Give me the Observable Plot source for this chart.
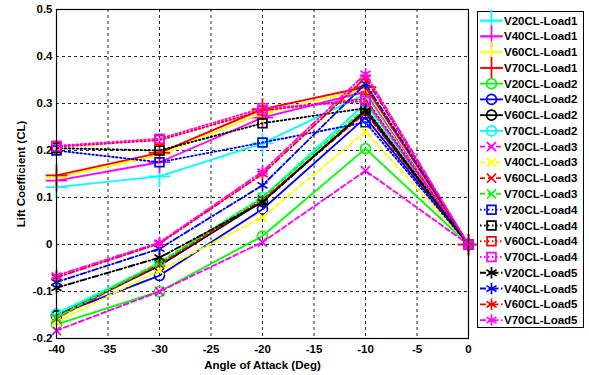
<!DOCTYPE html>
<html>
<head>
<meta charset="utf-8">
<script src="https://cdn.jsdelivr.net/npm/d3@7"></script>
<script src="https://cdn.jsdelivr.net/npm/@observablehq/plot@0.6"></script>
<style>
  html, body { margin: 0; padding: 0; background: #fff; }
  #chart { width: 589px; height: 375px; }
</style>
</head>
<body>
<div id="chart"></div>
<script>
// ---- data ----
const angles = [-40, -30, -20, -10, 0];
const xTicks = [-40, -35, -30, -25, -20, -15, -10, -5, 0];
const yTicks = [-0.2, -0.1, 0, 0.1, 0.2, 0.3, 0.4, 0.5];

const seriesNames = [
  "V20CL-Load1", "V40CL-Load1", "V60CL-Load1", "V70CL-Load1",
  "V20CL-Load2", "V40CL-Load2", "V60CL-Load2", "V70CL-Load2",
  "V20CL-Load3", "V40CL-Load3", "V60CL-Load3", "V70CL-Load3",
  "V20CL-Load4", "V40CL-Load4", "V60CL-Load4", "V70CL-Load4",
  "V20CL-Load5", "V40CL-Load5", "V60CL-Load5", "V70CL-Load5"
];

const v20Load1 = [0.122, 0.145, 0.215, 0.320, 0];
const v40Load1 = [0.136, 0.175, 0.270, 0.325, 0];
const v60Load1 = [0.143, 0.190, 0.280, 0.330, 0];
const v70Load1 = [0.147, 0.195, 0.288, 0.335, 0];

const v20Load2 = [-0.170, -0.100, 0.018, 0.204, 0];
const v40Load2 = [-0.150, -0.066, 0.075, 0.270, 0];
const v60Load2 = [-0.152, -0.045, 0.092, 0.285, 0];
const v70Load2 = [-0.147, -0.040, 0.100, 0.300, 0];

const v20Load3 = [-0.183, -0.100, 0.005, 0.157, 0];
const v40Load3 = [-0.165, -0.055, 0.058, 0.240, 0];
const v60Load3 = [-0.157, -0.042, 0.095, 0.280, 0];
const v70Load3 = [-0.155, -0.038, 0.100, 0.290, 0];

const v20Load4 = [0.200, 0.175, 0.217, 0.260, 0];
const v40Load4 = [0.205, 0.200, 0.258, 0.290, 0];
const v60Load4 = [0.208, 0.222, 0.285, 0.310, 0];
const v70Load4 = [0.210, 0.225, 0.290, 0.305, 0];

const v20Load5 = [-0.092, -0.028, 0.090, 0.285, 0];
const v40Load5 = [-0.080, -0.009, 0.126, 0.342, 0];
const v60Load5 = [-0.070, 0.002, 0.150, 0.355, 0];
const v70Load5 = [-0.066, 0.004, 0.155, 0.363, 0];

const seriesValues = [
  v20Load1, v40Load1, v60Load1, v70Load1,
  v20Load2, v40Load2, v60Load2, v70Load2,
  v20Load3, v40Load3, v60Load3, v70Load3,
  v20Load4, v40Load4, v60Load4, v70Load4,
  v20Load5, v40Load5, v60Load5, v70Load5
];

// ---- styles ----
const seriesColors = [
  "#00ffff", "#ff00ff", "#ffff00", "#ff0000",
  "#00ff00", "#0000ff", "#000000", "#00ffff",
  "#ff00ff", "#ffff00", "#ff0000", "#00ff00",
  "#0000ff", "#000000", "#ff0000", "#ff00ff",
  "#000000", "#0000ff", "#ff0000", "#ff00ff"
];
const loadSymbols = ["plus", "circle", "times", "square", "asterisk"];
const loadRadius = [7, 5, 4.2, 5, 5.5];
const loadDash = [null, null, "5,3", "1.5,2.5", "6,2.5,1.5,2.5"];

const table = seriesNames.flatMap((name, i) =>
  angles.map((a, j) => ({series: name, angle: a, cl: seriesValues[i][j]}))
);

const seriesMarks = seriesNames.flatMap((name, i) => {
  const g = Math.floor(i / 4);
  const rows = table.filter(d => d.series === name);
  return [
    Plot.line(rows, {x: "angle", y: "cl", stroke: seriesColors[i], strokeWidth: 1.9,
      strokeDasharray: loadDash[g] || undefined}),
    Plot.dot(rows, {x: "angle", y: "cl", symbol: loadSymbols[g], r: loadRadius[g],
      stroke: seriesColors[i], strokeWidth: 1.7, fill: "none"})
  ];
});

const W = 589, H = 375;
const chart = Plot.plot({
  width: W, height: H,
  marginLeft: 56, marginRight: 121, marginTop: 9, marginBottom: 37,
  style: {fontFamily: "'Liberation Sans', Arial, sans-serif", fontWeight: "bold", fontSize: "11.5px", background: "#fff", color: "#000"},
  x: {domain: [-40, 0]},
  y: {domain: [-0.2, 0.5]},
  marks: [
    Plot.gridX(xTicks, {stroke: "#000", strokeOpacity: 0.85, strokeDasharray: "3,3", strokeWidth: 1}),
    Plot.gridY(yTicks, {stroke: "#000", strokeOpacity: 0.85, strokeDasharray: "3,3", strokeWidth: 1}),
    ...seriesMarks,
    Plot.frame({stroke: "#000", strokeWidth: 1.2}),
    Plot.axisX(xTicks, {tickSize: 0, tickPadding: 6, tickFormat: d => String(d),
      label: "Angle of Attack (Deg)", labelAnchor: "center", labelArrow: "none", labelOffset: 30}),
    Plot.axisY(yTicks, {tickSize: 0, tickPadding: 4, tickFormat: d => (d === 0 ? "0" : String(+d.toFixed(1))),
      label: "Lift Coefficient (CL)", labelAnchor: "center", labelArrow: "none", labelOffset: 40})
  ]
});
document.getElementById("chart").appendChild(chart);

// ---- legend ----
const svg = d3.select(chart.tagName.toLowerCase() === "svg" ? chart : chart.querySelector("svg"));
const lg = svg.append("g").attr("font-family", "'Liberation Sans', Arial, sans-serif")
  .attr("font-weight", "bold").attr("font-size", "11.5px").attr("text-anchor", "start");
lg.append("rect").attr("x", 477.5).attr("y", 11.5).attr("width", 106).attr("height", 316)
  .attr("fill", "#fff").attr("stroke", "#000").attr("stroke-width", 1);
const symMap = {plus: d3.symbolPlus, circle: d3.symbolCircle, times: d3.symbolTimes, square: d3.symbolSquare, asterisk: d3.symbolAsterisk};
seriesNames.forEach((name, i) => {
  const g = Math.floor(i / 4);
  const y = 20.6 + i * 15.76;
  const e = lg.append("g");
  e.append("line").attr("x1", 480).attr("x2", 503).attr("y1", y).attr("y2", y)
    .attr("stroke", seriesColors[i]).attr("stroke-width", 1.8)
    .attr("stroke-dasharray", loadDash[g]);
  e.append("path").attr("transform", `translate(491.5,${y})`)
    .attr("d", d3.symbol(symMap[loadSymbols[g]], Math.PI * loadRadius[g] * loadRadius[g])())
    .attr("fill", "none").attr("stroke", seriesColors[i]).attr("stroke-width", 1.7);
  e.append("text").attr("x", 504).attr("y", y).attr("dy", "0.35em").attr("fill", "#000").text(name);
});
</script>
</body>
</html>
